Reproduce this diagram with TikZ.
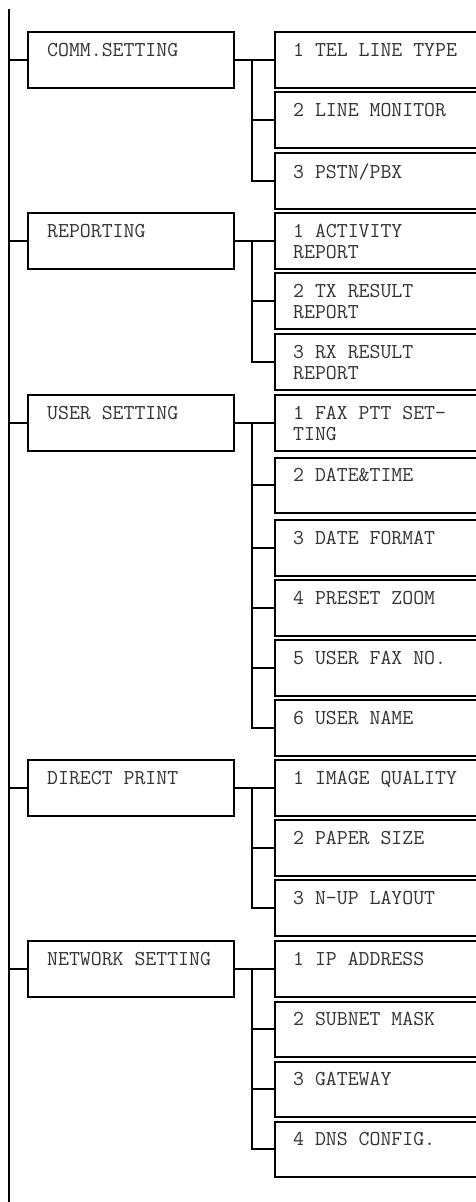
\documentclass[tikz,border=0pt]{standalone}
\usetikzlibrary{calc}
\tikzset{
  pbox/.style={draw, line width=2pt, anchor=north west, minimum width=205.5pt, minimum height=55.5pt, inner sep=0pt},
  cbox/.style={draw, line width=2pt, anchor=north west, minimum width=240pt, minimum height=55.5pt, inner sep=0pt},
  lbl/.style={anchor=north west, inner sep=0pt, align=left, font=\ttfamily\fontsize{21.2pt}{21pt}\selectfont, text=black!80},
  conn/.style={line width=2pt}
}
\begin{document}
\begin{tikzpicture}[x=1pt,y=-1pt]
\useasboundingbox (0,0) rectangle (476,1202);
\clip (0,0) rectangle (476,1202);
\coordinate (mtop) at (9,9);
\coordinate (mbot) at (9,1210);
\coordinate (bx) at (252,0);
% parents
\node[pbox] (p1) at (27,31) {};
\node[pbox] (p2) at (27,212) {};
\node[pbox] (p3) at (27,394) {};
\node[pbox] (p4) at (27,759) {};
\node[pbox] (p5) at (27,940) {};
\node[lbl] (tp1) at ($(p1.north west)+(20,12)$) {COMM.SETTING};
\node[lbl] (tp2) at ($(p2.north west)+(20,12)$) {REPORTING};
\node[lbl] (tp3) at ($(p3.north west)+(20,12)$) {USER SETTING};
\node[lbl] (tp4) at ($(p4.north west)+(20,12)$) {DIRECT PRINT};
\node[lbl] (tp5) at ($(p5.north west)+(20,12)$) {NETWORK SETTING};
% children
\node[cbox] (c1) at (274,31) {};
\node[cbox] (c2) at (274,91) {};
\node[cbox] (c3) at (274,152) {};
\node[cbox] (c4) at (274,212) {};
\node[cbox] (c5) at (274,272) {};
\node[cbox] (c6) at (274,333) {};
\node[cbox] (c7) at (274,394) {};
\node[cbox] (c8) at (274,456.5) {};
\node[cbox] (c9) at (274,519) {};
\node[cbox] (c10) at (274,579) {};
\node[cbox] (c11) at (274,639) {};
\node[cbox] (c12) at (274,699) {};
\node[cbox] (c13) at (274,759) {};
\node[cbox] (c14) at (274,819) {};
\node[cbox] (c15) at (274,879) {};
\node[cbox] (c16) at (274,940) {};
\node[cbox] (c17) at (274,1000.5) {};
\node[cbox] (c18) at (274,1060.5) {};
\node[cbox] (c19) at (274,1120.5) {};
\node[lbl] (t1) at ($(c1.north west)+(19,12)$) {1 TEL LINE TYPE};
\node[lbl] (t2) at ($(c2.north west)+(19,12)$) {2 LINE MONITOR};
\node[lbl] (t3) at ($(c3.north west)+(19,12)$) {3 PSTN/PBX};
\node[lbl] (t4) at ($(c4.north west)+(19,12)$) {1 ACTIVITY\\REPORT};
\node[lbl] (t5) at ($(c5.north west)+(19,12)$) {2 TX RESULT\\REPORT};
\node[lbl] (t6) at ($(c6.north west)+(19,12)$) {3 RX RESULT\\REPORT};
\node[lbl] (t7) at ($(c7.north west)+(19,12)$) {1 FAX PTT SET-\\TING};
\node[lbl] (t8) at ($(c8.north west)+(19,12)$) {2 DATE\&TIME};
\node[lbl] (t9) at ($(c9.north west)+(19,12)$) {3 DATE FORMAT};
\node[lbl] (t10) at ($(c10.north west)+(19,12)$) {4 PRESET ZOOM};
\node[lbl] (t11) at ($(c11.north west)+(19,12)$) {5 USER FAX NO.};
\node[lbl] (t12) at ($(c12.north west)+(19,12)$) {6 USER NAME};
\node[lbl] (t13) at ($(c13.north west)+(19,12)$) {1 IMAGE QUALITY};
\node[lbl] (t14) at ($(c14.north west)+(19,12)$) {2 PAPER SIZE};
\node[lbl] (t15) at ($(c15.north west)+(19,12)$) {3 N-UP LAYOUT};
\node[lbl] (t16) at ($(c16.north west)+(19,12)$) {1 IP ADDRESS};
\node[lbl] (t17) at ($(c17.north west)+(19,12)$) {2 SUBNET MASK};
\node[lbl] (t18) at ($(c18.north west)+(19,12)$) {3 GATEWAY};
\node[lbl] (t19) at ($(c19.north west)+(19,12)$) {4 DNS CONFIG.};
% main line
\draw[conn] (mtop) -- (mbot);
\foreach \p in {p1,p2,p3,p4,p5} {\draw[conn] (\p.west -| mtop) -- (\p.west);}
% branches
\draw[conn] (p1.east) -- (c1.west);
\draw[conn] (p1.east -| bx) |- (c3.west);
\draw[conn] (p2.east) -- (c4.west);
\draw[conn] (p2.east -| bx) |- (c6.west);
\draw[conn] (p3.east) -- (c7.west);
\draw[conn] (p3.east -| bx) |- (c12.west);
\draw[conn] (p4.east) -- (c13.west);
\draw[conn] (p4.east -| bx) |- (c15.west);
\draw[conn] (p5.east) -- (c16.west);
\draw[conn] (p5.east -| bx) |- (c19.west);
\foreach \c in {c2,c5,c8,c9,c10,c11,c14,c17,c18} {\draw[conn] (\c.west -| bx) -- (\c.west);}
\end{tikzpicture}
\end{document}
